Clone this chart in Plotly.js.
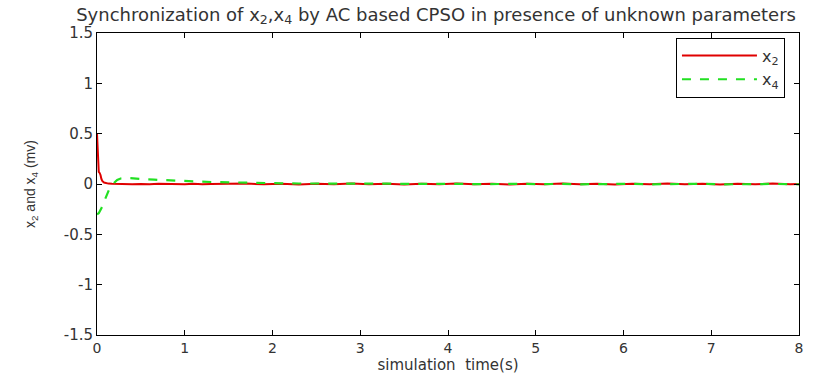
<!DOCTYPE html>
<html>
<head>
<meta charset="utf-8">
<script src="https://cdn.plot.ly/plotly-3.0.1.min.js"></script>
<style>html,body{margin:0;padding:0;background:#fff;}#chart{width:819px;height:374px;}</style>
</head>
<body>
<div id="chart"></div>
<script>
// time samples (s)
const tX2 = [0, 0.005, 0.01, 0.015, 0.02, 0.03, 0.04, 0.05, 0.06, 0.08, 0.1, 0.13, 0.17, 0.22, 0.3, 0.4, 0.5, 0.6, 0.7, 0.8, 0.9, 1.0, 1.1, 1.2, 1.3, 1.4, 1.5, 1.7, 1.9, 2.1, 2.3, 2.5, 2.7, 2.9, 3.1, 3.3, 3.5, 3.7, 3.9, 4.1, 4.3, 4.5, 4.7, 4.9, 5.1, 5.3, 5.5, 5.7, 5.9, 6.1, 6.3, 6.5, 6.7, 6.9, 7.1, 7.3, 7.5, 7.7, 7.9, 8.0];
const x2 = [0.5, 0.42, 0.3, 0.2, 0.12, 0.11, 0.09, 0.05, 0.03, 0.015, 0.008, 0.004, 0.002, 0.0, 0.002, -0.002, 0.001, -0.003, 0.002, -0.001, 0.003, -0.002, 0.002, -0.003, 0.001, 0.003, -0.002, 0.004, -0.003, 0.002, -0.004, 0.003, -0.002, 0.004, -0.003, 0.002, -0.004, 0.003, -0.002, 0.004, -0.003, 0.003, -0.004, 0.002, -0.003, 0.004, -0.002, 0.003, -0.004, 0.002, -0.003, 0.004, -0.002, 0.003, -0.004, 0.002, -0.003, 0.004, -0.002, 0.001];
const tX4 = [0, 0.02, 0.05, 0.08, 0.11, 0.14, 0.17, 0.2, 0.23, 0.27, 0.32, 0.38, 0.45, 0.55, 0.65, 0.75, 0.85, 1.0, 1.15, 1.3, 1.5, 1.7, 1.9, 2.1, 2.3, 2.5, 2.7, 2.9, 3.1, 3.3, 3.5, 3.7, 3.9, 4.1, 4.3, 4.5, 4.7, 4.9, 5.1, 5.3, 5.5, 5.7, 5.9, 6.1, 6.3, 6.5, 6.7, 6.9, 7.1, 7.3, 7.5, 7.7, 7.9, 8.0];
const x4 = [-0.3, -0.29, -0.24, -0.17, -0.1, -0.05, -0.01, 0.02, 0.04, 0.055, 0.06, 0.058, 0.052, 0.047, 0.043, 0.038, 0.034, 0.03, 0.025, 0.02, 0.015, 0.012, 0.009, 0.007, 0.005, 0.006, 0.003, 0.005, 0.002, 0.004, 0.001, 0.003, 0.0, 0.002, -0.001, 0.002, -0.002, 0.001, -0.002, 0.002, -0.003, 0.001, -0.002, 0.002, -0.003, 0.001, -0.002, 0.002, -0.003, 0.001, -0.002, 0.001, -0.004, -0.003];
const xTicks = [0, 1, 2, 3, 4, 5, 6, 7, 8];
const yTicks = [-1.5, -1, -0.5, 0, 0.5, 1, 1.5];
const yTickText = ['-1.5', '-1', '-0.5', '0', '0.5', '1', '1.5'];

const FONT = 'DejaVu Sans, Verdana, sans-serif';
const traces = [
  {x: tX2, y: x2, name: 'x<sub>2</sub>', mode: 'lines', line: {color: '#e00000', width: 2}},
  {x: tX4, y: x4, name: 'x<sub>4</sub>', mode: 'lines', line: {color: '#22e022', width: 2.2, dash: 'dash'}}
];
const axisCommon = {
  showline: true, linecolor: '#000', linewidth: 1, mirror: 'ticks',
  ticks: 'inside', ticklen: 5, tickcolor: '#000', showgrid: false, zeroline: false,
  tickfont: {family: FONT, size: 15, color: '#333'}
};
const layout = {
  width: 819, height: 374,
  margin: {l: 97, r: 20, t: 33, b: 39},
  paper_bgcolor: '#fff', plot_bgcolor: '#fff',
  font: {family: FONT, color: '#333'},
  title: {text: 'Synchronization of x<sub>2</sub>,x<sub>4</sub> by AC based CPSO in presence of unknown parameters',
          x: 0.483, xref: 'paper', xanchor: 'center', y: 0.962, yanchor: 'middle', font: {family: FONT, size: 18, color: '#333'}},
  xaxis: Object.assign({}, axisCommon, {range: [0, 8], tickvals: xTicks, ticktext: xTicks.map(String),
          tickfont: {family: FONT, size: 14, color: '#333'},
          title: {text: 'simulation&nbsp;&nbsp;time(s)', standoff: 2, font: {family: FONT, size: 15, color: '#333'}}}),
  yaxis: Object.assign({}, axisCommon, {range: [-1.5, 1.5], tickvals: yTicks, ticktext: yTickText,
          title: {text: 'x<sub>2</sub> and x<sub>4</sub> (mv)', standoff: 24, font: {family: 'Liberation Sans Narrow, Liberation Sans, Arial, sans-serif', size: 14, color: '#333'}}}),
  legend: {x: 0.98, y: 0.985, xanchor: 'right', yanchor: 'top', bordercolor: '#000', borderwidth: 1,
           bgcolor: '#fff', font: {family: FONT, size: 16, color: '#333'}, itemwidth: 75, tracegroupgap: 0},
  showlegend: true
};
Plotly.newPlot('chart', traces, layout, {displayModeBar: false, staticPlot: true});
</script>
</body>
</html>
